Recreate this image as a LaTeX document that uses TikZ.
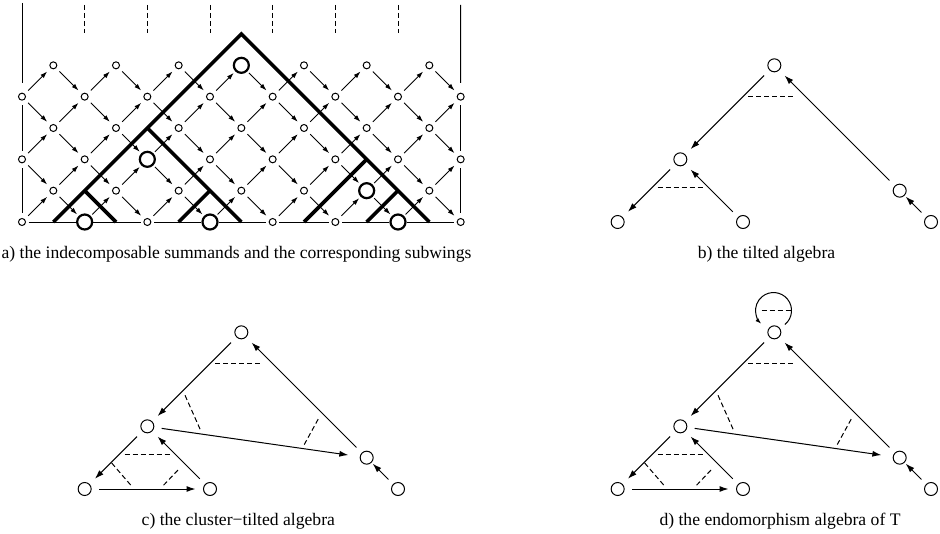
\documentclass[tikz,border=0pt]{standalone}
\usepackage{fontspec}
\setmainfont{Liberation Serif}
\usetikzlibrary{arrows.meta,calc}
\expandafter\def\csname isbig2-0\endcsname{x}
\expandafter\def\csname isbig6-0\endcsname{x}
\expandafter\def\csname isbig12-0\endcsname{x}
\expandafter\def\csname isbig4-2\endcsname{x}
\expandafter\def\csname isbig11-1\endcsname{x}
\expandafter\def\csname isbig7-5\endcsname{x}
\newcommand\treepanel[3]{%
  \begin{scope}[shift={(#2,#3)}]
    \node[tn] (#1t) at (241.33,65.33) {};
    \node[tn] (#1m) at (147.33,159.33) {};
    \node[tn] (#1l) at (84.67,222) {};
    \node[tn] (#1b) at (210,222) {};
    \node[tn] (#1r) at (366.67,190.67) {};
    \node[tn] (#1R) at (398,222) {};
  \end{scope}
  \draw[tar] (#1t) -- (#1m);
  \draw[tar] (#1m) -- (#1l);
  \draw[tar] (#1b) -- (#1m);
  \draw[tar] (#1r) -- (#1t);
  \draw[tar,shorten <=-0.5pt,shorten >=-3pt] (#1R) -- (#1r);
  \draw[rel] ($(#1t)+(-26,30.8)$) -- ($(#1t)+(21.5,30.8)$);
  \draw[rel] ($(#1m)+(-22.7,27.9)$) -- ($(#1m)+(22.8,27.9)$);
}
\newcommand\clusterextra[1]{%
  \draw[tar,shorten >=2pt] (#1m) -- (#1r);
  \draw[tar] (#1l) -- (#1b);
  \draw[rel] ($(#1m)+(37.7,-31)$) -- ($(#1m)+(53,3.4)$);
  \draw[rel] ($(#1r)+(-48.5,-38.5)$) -- ($(#1r)+(-62.5,-13)$);
  \draw[rel] ($(#1l)+(27,-26)$) -- ($(#1l)+(46,-4)$);
  \draw[rel] ($(#1b)+(-32,-19)$) -- ($(#1b)+(-46.7,-3.5)$);
}
\begin{document}
\begin{tikzpicture}[x=0.5pt,y=-0.5pt,
  sm/.style={circle,draw,line width=0.5pt,minimum size=3.5pt,inner sep=0pt,outer sep=2.6pt},
  bg/.style={circle,draw,line width=1.1pt,minimum size=7.5pt,inner sep=0pt,outer sep=1.6pt},
  ar/.style={-{Latex[length=3.5pt,width=2.3pt]},line width=0.45pt},
  bd/.style={line width=0.5pt},
  bline/.style={line width=0.5pt,shorten <=-1pt,shorten >=-1pt},
  wing/.style={line width=1.8pt},
  tn/.style={circle,draw,line width=0.5pt,minimum size=6.5pt,inner sep=0pt,outer sep=4pt},
  tar/.style={-{Latex[length=4.5pt,width=3pt]},line width=0.5pt},
  rel/.style={dash pattern=on 2.5pt off 1.5pt,line width=0.5pt},
  captxt/.style={font=\fontsize{8.8}{10}\selectfont,inner sep=0pt}
]
\useasboundingbox (0,0) rectangle (940,534);

% ---------- panel a: grid nodes ----------
\foreach \i in {0,...,14}{
  \foreach \j in {0,...,5}{
    \pgfmathtruncatemacro\p{mod(\i+\j,2)}
    \ifnum\p=0
      \ifcsname isbig\i-\j\endcsname
        \node[bg] (a-\i-\j) at ({22+31.3333*\i},{222-31.3333*\j}) {};
      \else
        \node[sm] (a-\i-\j) at ({22+31.3333*\i},{222-31.3333*\j}) {};
      \fi
    \fi
  }
}
% arrows
\foreach \i in {0,...,13}{
  \foreach \j in {0,...,5}{
    \pgfmathtruncatemacro\p{mod(\i+\j,2)}
    \pgfmathtruncatemacro\ii{\i+1}
    \pgfmathtruncatemacro\ju{\j+1}
    \pgfmathtruncatemacro\jd{\j-1}
    \ifnum\p=0
      \ifnum\j<5 \draw[ar] (a-\i-\j) -- (a-\ii-\ju); \fi
      \ifnum\j>0 \draw[ar] (a-\i-\j) -- (a-\ii-\jd); \fi
    \fi
  }
}
% baseline
\foreach \i in {0,2,...,12}{
  \pgfmathtruncatemacro\ii{\i+2}
  \draw[bline] (a-\i-0) -- (a-\ii-0);
}
% side borders
\coordinate (ltop) at (22,3);
\coordinate (rtop) at (460.67,5);
\draw[bd,shorten >=2.5pt] (ltop) -- (a-0-4);
\draw[bd] (a-0-4) -- (a-0-2);
\draw[bd] (a-0-2) -- (a-0-0);
\draw[bd,shorten >=2.5pt] (rtop) -- (a-14-4);
\draw[bd] (a-14-4) -- (a-14-2);
\draw[bd] (a-14-2) -- (a-14-0);
% dashed top lines
\foreach \i in {2,4,...,12}{
  \coordinate (dt\i) at ({22+31.3333*\i},5);
  \coordinate (db\i) at ({22+31.3333*\i},33);
  \draw[rel] (dt\i) -- (db\i);
}
% wings
\coordinate (wA) at (53.33,222);
\coordinate (wB) at (241.33,34);
\coordinate (wC) at (429.33,222);
\coordinate (wD) at (147.33,128);
\coordinate (wE) at (241.33,222);
\coordinate (wF) at (84.67,190.67);
\coordinate (wG) at (116,222);
\coordinate (wH) at (178.67,222);
\coordinate (wI) at (210,190.67);
\coordinate (wJ) at (304,222);
\coordinate (wK) at (366.67,159.33);
\coordinate (wL) at (366.67,222);
\coordinate (wM) at (398,190.67);
\draw[wing] (wA) -- (wB) -- (wC);
\draw[wing] (wD) -- (wE);
\draw[wing] (wF) -- (wG);
\draw[wing] (wH) -- (wI);
\draw[wing] (wJ) -- (wK);
\draw[wing] (wL) -- (wM);

% ---------- panels b, c, d ----------
\treepanel{b}{533}{0}
\treepanel{c}{0}{267}
\clusterextra{c}
\treepanel{d}{533}{267}
\clusterextra{d}
% loop in d
\coordinate (dls) at ($(dt)+(-0.8,-21.8)+(51:18)$);
\draw[-{Latex[length=3pt,width=2pt]},line width=0.5pt] (dls) arc[start angle=51,end angle=-227,radius=18];
\draw[rel] ($(dt)+(-12.6,-22.3)$) -- ($(dt)+(17.4,-22.3)$);

% ---------- captions ----------
\node[captxt] (capa) at (236.5,254) {a) the indecomposable summands and the corresponding subwings};
\node[captxt] (capb) at (766.5,254) {b) the tilted algebra};
\node[captxt] (capc) at (238.3,521) {c) the cluster−tilted algebra};
\node[captxt] (capd) at (780,521) {d) the endomorphism algebra of T};
\end{tikzpicture}
\end{document}
